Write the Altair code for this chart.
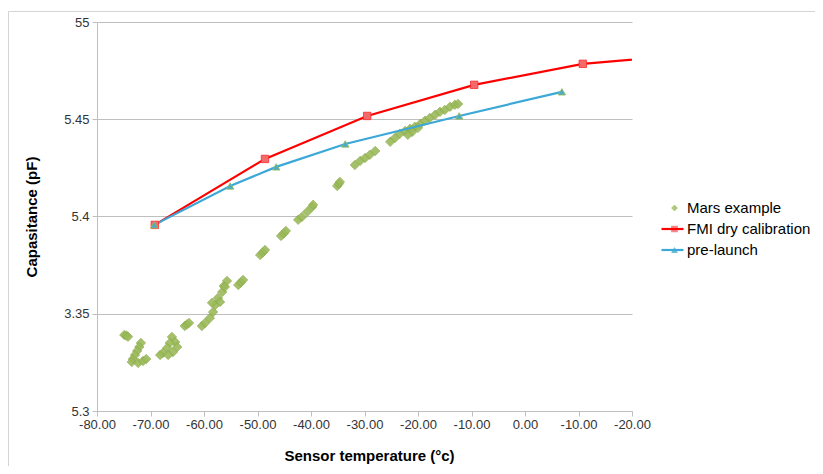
import altair as alt
import pandas as pd

series_names = ["Mars example", "FMI dry calibration", "pre-launch"]
line_keys = ["mars", "fmi", "pre"]

# Mars example (sensor temperature, capacitance)
mars_temp = [-74.9, -74.5, -74.2,
             -71.8, -72.1, -72.5, -72.9, -73.3, -73.5, -72.3, -71.4, -70.8,
             -66.0, -65.4, -66.4, -66.9, -67.7, -68.2, -65.0, -65.8, -66.7,
             -63.6, -63.2, -62.8,
             -60.4, -59.8, -58.9, -58.3, -57.9, -57.4, -56.6, -56.3, -55.7, -56.1, -57.0, -58.5,
             -53.6, -53.1, -52.7,
             -49.5, -49.0, -48.6,
             -45.6, -45.1, -44.7,
             -42.4, -41.7, -40.7, -39.8, -39.6,
             -35.1, -34.8, -34.6,
             -31.8, -30.8, -29.9, -29.0, -28.0,
             -25.2, -24.3, -23.4, -22.4, -21.5, -20.6, -19.6, -18.7, -17.8, -16.8,
             -15.9, -15.0, -14.0, -13.1, -12.5, -21.1, -20.0, -21.9]
mars_cap = [5.3391, 5.3388, 5.3382,
            5.3350, 5.3329, 5.3309, 5.3288, 5.3267, 5.3252, 5.3247, 5.3257, 5.3267,
            5.3381, 5.3355, 5.3350, 5.3324, 5.3298, 5.3288, 5.3329, 5.3303, 5.3288,
            5.3437, 5.3445, 5.3453,
            5.3437, 5.3453, 5.3478, 5.3509, 5.3545, 5.3581, 5.3612, 5.3643, 5.3669, 5.3638, 5.3561, 5.3556,
            5.3648, 5.3661, 5.3674,
            5.3802, 5.3815, 5.3828,
            5.3900, 5.3913, 5.3926,
            5.3983, 5.3998, 5.4024, 5.4049, 5.4060,
            5.4157, 5.4168, 5.4178,
            5.4265, 5.4286, 5.4301, 5.4317, 5.4337,
            5.4384, 5.4404, 5.4425, 5.4440, 5.4451, 5.4461, 5.4476, 5.4492, 5.4507, 5.4523,
            5.4538, 5.4548, 5.4564, 5.4574, 5.4579, 5.4435, 5.4456, 5.4420]

# FMI dry calibration (last point lies beyond the axis and is clipped)
fmi_temp = [-69.2, -48.6, -29.5, -9.5, 10.8, 30.0]
fmi_cap = [5.3957, 5.4296, 5.4517, 5.4677, 5.4785, 5.4830]

# pre-launch
pre_temp = [-69.3, -55.1, -46.5, -33.6, -12.3, 6.9]
pre_cap = [5.3957, 5.4157, 5.4255, 5.4373, 5.4517, 5.4641]

x_tick_values = [-80, -70, -60, -50, -40, -30, -20, -10, 0, 10, 20]
x_tick_labels = ["-80.00", "-70.00", "-60.00", "-50.00", "-40.00", "-30.00",
                 "-20.00", "-10.00", "0.00", "-10.00", "-20.00"]
y_tick_values = [5.3, 5.35, 5.4, 5.45, 5.5]
y_tick_labels = ["5.3", "3.35", "5.4", "5.45", "55"]

mars_df = pd.DataFrame({"temp": mars_temp, "cap": mars_cap, "series": series_names[0]})
fmi_df = pd.DataFrame({"temp": fmi_temp, "cap": fmi_cap, "series": series_names[1], "key": line_keys[1]})
pre_df = pd.DataFrame({"temp": pre_temp, "cap": pre_cap, "series": series_names[2], "key": line_keys[2]})
markers_df = pd.concat([fmi_df, pre_df], ignore_index=True)


def label_expr(values, labels):
    lab = ",".join("'" + l + "'" for l in labels)
    val = ",".join(repr(v) for v in values)
    return "[" + lab + "][indexof([" + val + "], datum.value)]"


FONT = "Liberation Sans"
GRAY = "#bfbfbf"

x_enc = alt.X("temp:Q",
              scale=alt.Scale(domain=[-80, 20], nice=False, zero=False),
              axis=alt.Axis(values=x_tick_values, labelExpr=label_expr(x_tick_values, x_tick_labels),
                            grid=False, domainColor=GRAY, tickColor=GRAY, tickSize=5,
                            labelFont=FONT, labelFontSize=13, labelColor="#333333", labelPadding=2,
                            labelFlush=False, labelOverlap=False, labelBound=False,
                            title="Sensor temperature (°c)", titleFont=FONT, titleFontSize=15,
                            titleFontWeight="bold", titleColor="#000000", titlePadding=17,
                            titleX=272))
y_enc = alt.Y("cap:Q",
              scale=alt.Scale(domain=[5.3, 5.5], nice=False, zero=False),
              axis=alt.Axis(values=y_tick_values, labelExpr=label_expr(y_tick_values, y_tick_labels),
                            grid=True, gridColor=GRAY, domainColor=GRAY, tickColor=GRAY, tickSize=5,
                            labelFont=FONT, labelFontSize=13, labelColor="#333333", labelPadding=3,
                            labelFlush=False, labelOverlap=False,
                            title="Capasitance (pF)", titleFont=FONT, titleFontSize=15,
                            titleFontWeight="bold", titleColor="#000000", titlePadding=24))

line_legend = alt.Legend(title=None, orient="none", legendX=563, legendY=178,
                         symbolType="stroke", symbolSize=484, symbolStrokeWidth=2.2,
                         clipHeight=16, rowPadding=5, labelExpr="''", labelFontSize=15)
point_legend = alt.Legend(title=None, orient="none", legendX=570, legendY=178,
                          symbolSize=45, symbolStrokeWidth=0, clipHeight=16, rowPadding=5,
                          labelFont=FONT, labelFontSize=15, labelColor="#000000",
                          labelOffset=5, labelLimit=400)

color_scale = alt.Scale(domain=line_keys, range=["transparent", "#FF0000", "#3BA8D8"])
fill_scale = alt.Scale(domain=series_names, range=["#9BBB59", "#F26B6B", "#4BACC6"])
stroke_scale = alt.Scale(domain=series_names, range=["#86A347", "#FF2A2A", "#9BBB59"])
shape_scale = alt.Scale(domain=series_names, range=["diamond", "square", "triangle-up"])

frame = alt.Chart(pd.DataFrame({"k": [0]})).mark_rect(
    fillOpacity=0, stroke="#d4d4d4", strokeWidth=1
).encode(x=alt.value(-88.5), x2=alt.value(1200), y=alt.value(-10.5), y2=alt.value(1200))

mars_layer = alt.Chart(mars_df).mark_point(filled=True, size=90, opacity=0.9, strokeWidth=0.6).encode(
    x=x_enc, y=y_enc,
    fill=alt.Fill("series:N", scale=fill_scale, legend=point_legend),
    shape=alt.Shape("series:N", scale=shape_scale, legend=point_legend),
    stroke=alt.Stroke("series:N", scale=stroke_scale, legend=None),
)

fmi_line = alt.Chart(fmi_df).mark_line(strokeWidth=2.2, clip=True).encode(
    x=x_enc, y=y_enc,
    color=alt.Color("key:N", scale=color_scale, legend=line_legend),
)
pre_line = alt.Chart(pre_df).mark_line(strokeWidth=2.2, clip=True).encode(
    x=x_enc, y=y_enc,
    color=alt.Color("key:N", scale=color_scale, legend=line_legend),
)

markers = alt.Chart(markers_df).mark_point(filled=True, size=55, strokeWidth=0.8, opacity=1, clip=True).encode(
    x=x_enc, y=y_enc,
    fill=alt.Fill("series:N", scale=fill_scale, legend=point_legend),
    shape=alt.Shape("series:N", scale=shape_scale, legend=point_legend),
    stroke=alt.Stroke("series:N", scale=stroke_scale, legend=None),
)

chart = alt.layer(frame, mars_layer, fmi_line, pre_line, markers).properties(
    width=535, height=389,
    autosize=alt.AutoSizeParams(type="none"),
    padding={"left": 89, "top": 14, "right": 183, "bottom": 55},
    background="white",
).configure_view(stroke=None)

chart.save("out.html", embed_options={"renderer": "svg", "actions": False})
